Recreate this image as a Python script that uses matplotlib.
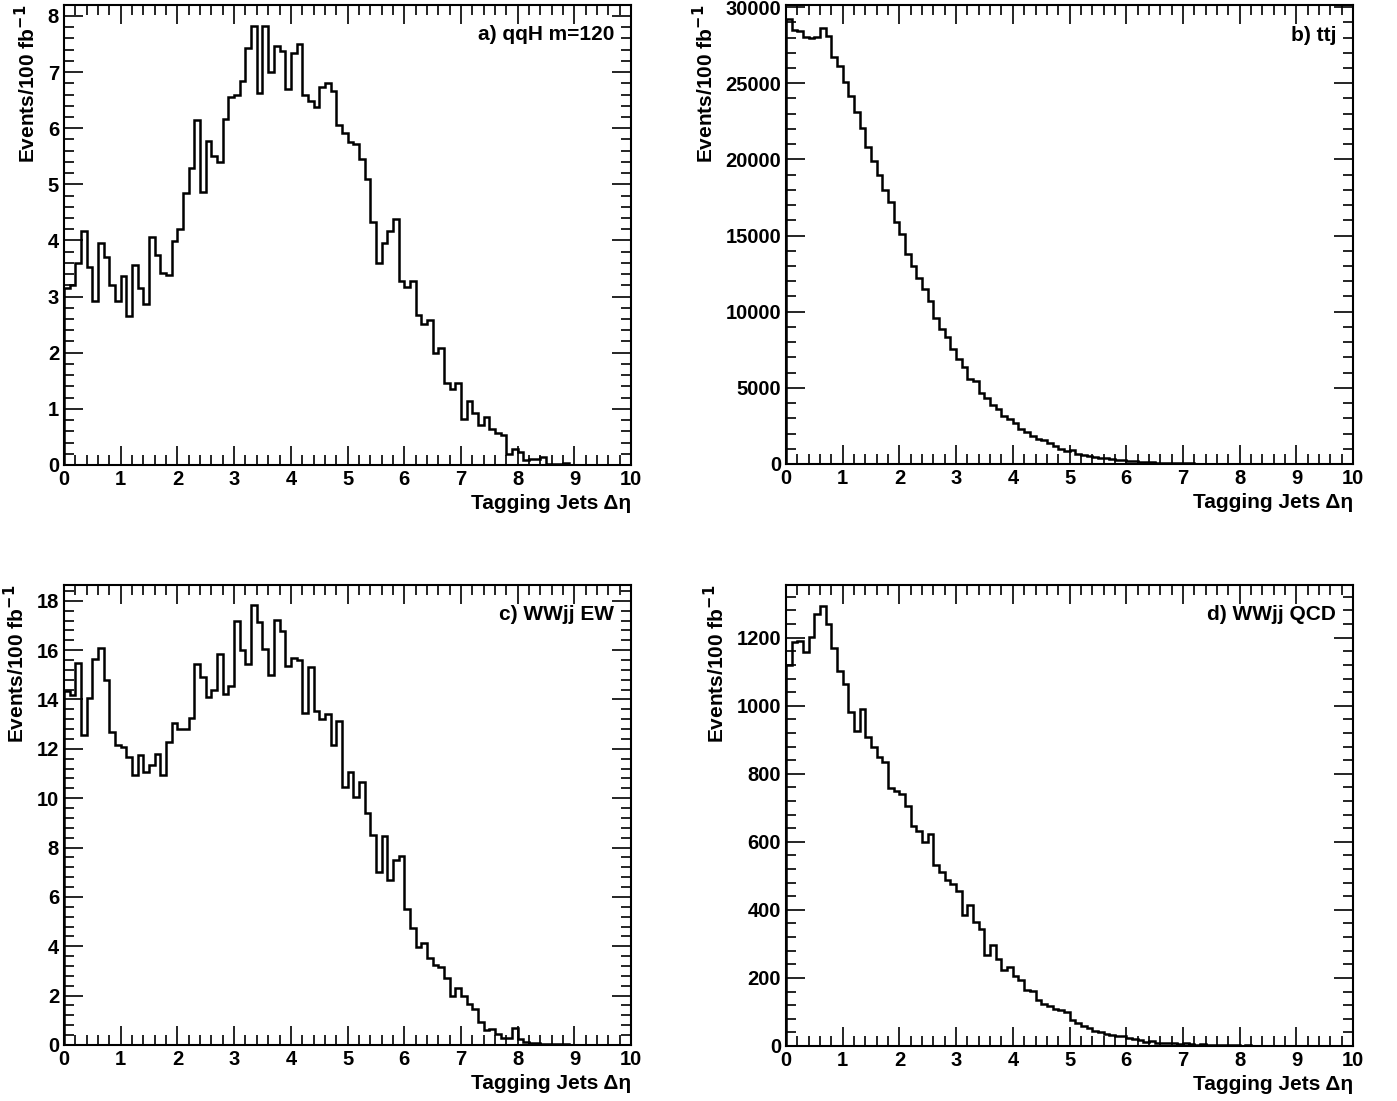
import numpy as np
import matplotlib
matplotlib.use("Agg")
import matplotlib.pyplot as plt
from matplotlib.ticker import MultipleLocator

edges = np.round(np.arange(0, 10.01, 0.1), 2)

qqH = [3.15,3.21,3.6,4.17,3.53,2.92,3.95,3.71,3.21,2.92,3.36,2.65,3.57,3.15,2.86,4.06,3.74,3.42,3.38,3.99,
       4.2,4.84,5.29,6.14,4.87,5.78,5.5,5.39,6.17,6.55,6.59,6.84,7.43,7.83,6.63,7.83,7.01,7.47,7.37,6.7,
       7.34,7.5,6.6,6.49,6.38,6.74,6.8,6.67,6.06,5.92,5.75,5.71,5.46,5.1,4.32,3.59,3.95,4.17,4.38,3.27,
       3.17,3.27,2.68,2.52,2.58,1.99,2.08,1.46,1.36,1.46,0.82,1.14,0.92,0.71,0.85,0.64,0.57,0.54,0.19,0.29,
       0.23,0.08,0.11,0.11,0.15,0.01,0.02,0.02,0.04,0,0,0,0,0,0,0,0,0,0,0]

ttj = [29200,28500,28450,28050,27940,28010,28600,28100,26700,26130,25070,24140,23100,22060,20840,19910,18980,17960,17210,15880,
       15070,13760,12990,12230,11500,10730,9600,8850,8320,7520,6860,6370,5600,5460,4670,4310,3890,3610,3160,2940,
       2720,2320,2100,1860,1620,1570,1390,1170,1000,820,890,660,600,530,470,420,360,310,270,230,
       200,170,150,130,110,95,80,70,60,50,40,35,30,26,22,19,16,14,12,10,
       9,8,7,6,5,5,4,4,3,3,2,2,2,1,1,1,1,1,0,0]

wwjj_ew = [14.35,14.19,15.47,12.57,14.05,15.64,16.09,14.78,12.69,12.16,12.09,11.68,10.93,11.74,11.08,11.35,11.78,10.93,12.27,13.03,
           12.8,12.8,13.27,15.45,14.92,14.12,14.38,15.86,14.22,14.53,17.18,16.0,15.42,17.84,17.14,16.04,15.0,17.23,16.77,15.36,
           15.68,15.58,13.46,15.31,13.53,13.22,13.41,12.15,13.11,10.46,11.08,10.05,10.64,9.39,8.49,7.0,8.46,6.7,7.51,7.66,
           5.5,4.73,3.95,4.12,3.54,3.23,3.16,2.7,1.99,2.3,1.99,1.65,1.45,0.95,0.59,0.66,0.46,0.3,0.3,0.7,
           0.23,0.14,0.09,0.08,0.05,0.04,0.03,0.03,0.02,0,0,0,0,0,0,0,0,0,0,0]

wwjj_qcd = [1121,1188,1190,1159,1202,1269,1294,1239,1171,1102,1063,982,925,990,907,878,848,834,759,750,
            742,704,647,631,600,622,533,510,489,475,455,384,413,365,343,267,297,257,224,233,
            205,193,164,161,136,123,118,108,106,100,75,68,60,52,45,40,36,32,28,30,
            22,20,18,12,14,10,9,10,8,6,8,5,4,5,3,3,2,3,2,2,
            1,2,1,1,1,1,0,1,0,0,0,0,0,0,0,0,0,0,0,0]

panels = [
    (qqH, "a) qqH m=120", 8.2, 1, 0.2, [0.0458, 0.5777, 0.406, 0.418]),
    (ttj, "b) ttj", 30150, 5000, 1000, [0.5626, 0.5786, 0.406, 0.417]),
    (wwjj_ew, "c) WWjj EW", 18.65, 2, 0.4, [0.0458, 0.0509, 0.406, 0.418]),
    (wwjj_qcd, "d) WWjj QCD", 1356, 200, 40, [0.5626, 0.0500, 0.406, 0.419]),
]

plt.rcParams['font.family'] = ['Liberation Sans', 'DejaVu Sans']
plt.rcParams['font.weight'] = 'bold'
fig = plt.figure(figsize=(13.97, 11.01), dpi=100)
for vals, title, ytop, ymaj, ymin, rect in panels:
    ax = fig.add_axes(rect)
    ax.stairs(vals, edges, color='black', linewidth=1.8)
    ax.set_xlim(0, 10)
    ax.set_ylim(0, ytop)
    ax.xaxis.set_major_locator(MultipleLocator(1))
    ax.xaxis.set_minor_locator(MultipleLocator(0.2))
    ax.yaxis.set_major_locator(MultipleLocator(ymaj))
    ax.yaxis.set_minor_locator(MultipleLocator(ymin))
    ax.tick_params(which='both', direction='in', top=True, right=True, labelsize=14.5, width=1.2)
    ax.tick_params(which='major', length=14)
    ax.tick_params(which='minor', length=7)
    for lab in ax.get_xticklabels() + ax.get_yticklabels():
        lab.set_fontweight('bold')
    for s in ax.spines.values():
        s.set_linewidth(1.5)
    ax.text(0.97, 0.955, title, transform=ax.transAxes, ha='right', va='top',
            fontsize=15, fontweight='bold')
    ax.set_xlabel("Tagging Jets Δη", fontsize=15, fontweight='bold', loc='right', labelpad=4)
    ax.set_ylabel("Events/100 fb$^{\\mathbf{-1}}$", fontsize=15, fontweight='bold', loc='top', labelpad=6)

fig.savefig("out.png", dpi=100)
